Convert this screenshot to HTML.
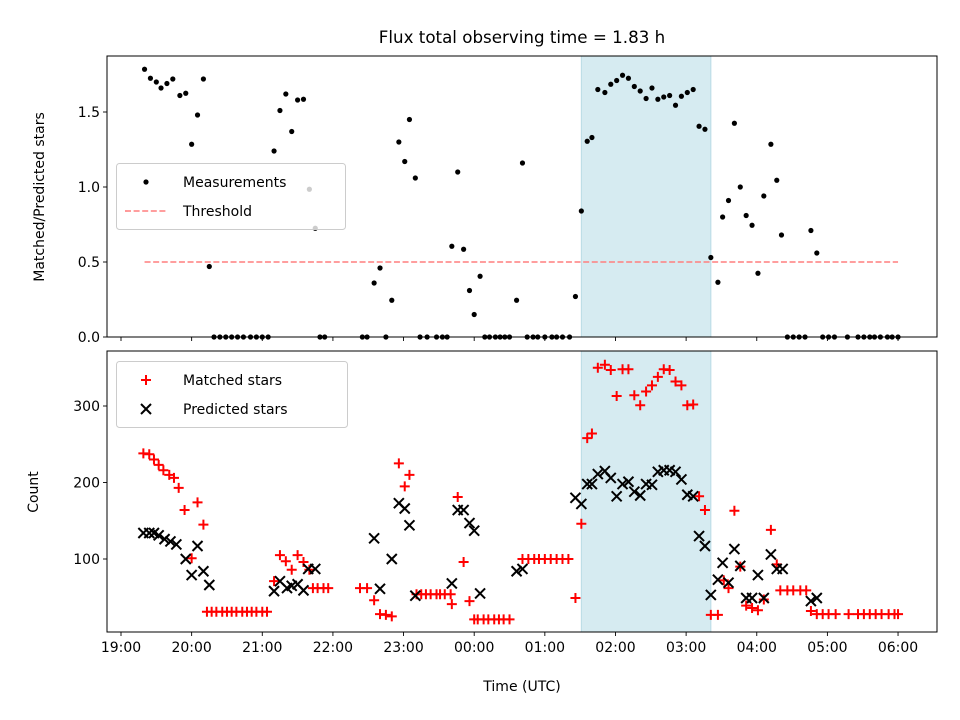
<!DOCTYPE html>
<html><head><meta charset="utf-8"><style>
html,body{margin:0;padding:0;background:#fff;}
svg{display:block;font-family:"DejaVu Sans","Liberation Sans",sans-serif;}
</style></head><body>
<svg id="chart" width="960" height="720" viewBox="0 0 960 720" xmlns="http://www.w3.org/2000/svg">
<rect width="960" height="720" fill="#fff"/>
<text x="522" y="43" font-size="16.7" text-anchor="middle">Flux total observing time = 1.83 h</text>
<g id="topPanel"></g>
<g id="botPanel"></g>
<text x="522" y="691" font-size="14" text-anchor="middle">Time (UTC)</text>
<text transform="translate(44,197) rotate(-90)" font-size="14" text-anchor="middle">Matched/Predicted stars</text>
<text transform="translate(38,492) rotate(-90)" font-size="14" text-anchor="middle">Count</text>
</svg>
<script>
// minutes after 19:00
const ratioT=[20,25,30,34,39,44,50,55,60,65,70,75,79,84,89,94,99,104,110,115,120,125,130,135,140,145,150,155,160,165,169,173,205,209,215,220,225,230,236,241,245,250,254,260,268,273,277,281,286,291,296,300,305,309,313,318,322,326,330,336,341,345,350,354,360,366,370,375,381,386,391,396,400,405,411,416,421,426,431,436,441,446,451,456,461,466,471,476,481,486,491,496,501,507,511,516,521,526,531,536,541,546,552,557,561,566,571,576,581,586,591,596,601,606,617,626,631,636,640,645,651,655,660];
const ratioV=[1.785,1.725,1.70,1.66,1.69,1.72,1.61,1.625,1.285,1.48,1.72,0.47,0,0,0,0,0,0,0,0,0,0,1.24,1.51,1.62,1.37,1.58,1.585,0.985,0.725,0,0,0,0,0.36,0.46,0,0.245,1.30,1.17,1.45,1.06,0,0,0,0,0,0.605,1.10,0.585,0.31,0.15,0.405,0,0,0,0,0,0,0.245,1.16,0,0,0,0,0,0,0,0,0.27,0.84,1.305,1.33,1.65,1.63,1.685,1.71,1.745,1.725,1.67,1.64,1.59,1.66,1.585,1.60,1.61,1.545,1.605,1.63,1.65,1.405,1.385,0.53,0.365,0.80,0.91,1.425,1.00,0.81,0.745,0.425,0.94,1.285,1.045,0.68,0,0,0,0,0.71,0.56,0,0,0,0,0,0,0,0,0,0,0,0];
const matchedT=[19,24,28,32,36,41,45,49,54,60,65,70,73,77,81,86,90,94,98,103,107,111,115,120,124,130,135,140,145,150,155,160,163,167,172,176,203,209,215,220,225,230,236,241,245,251,255,259,263,268,271,275,280,281,286,291,296,300,303,308,312,317,321,325,330,341,346,351,355,360,365,370,375,380,386,391,396,400,405,411,416,421,426,431,436,441,446,451,456,461,466,471,476,481,486,491,496,501,507,512,516,521,526,531,536,541,546,552,557,560,566,571,577,582,586,591,596,601,607,618,626,631,636,641,646,652,657,660];
const matchedV=[238,237,230,223,216,210,206,193,164,101,174,145,31,31,31,31,31,31,31,31,31,31,31,31,31,71,105,97,86,105,96,86,62,62,62,62,62,62,46,28,27,25,225,195,210,54,54,54,54,54,54,54,54,41,181,96,45,21,21,21,21,21,21,21,21,100,100,100,100,100,100,100,100,100,49,146,258,264,350,354,347,313,348,348,314,301,319,327,338,348,347,332,327,301,302,182,164,27,27,72,62,163,90,39,36,33,47,138,93,59,59,59,59,59,32,28,28,28,28,28,28,28,28,28,28,28,28,28];
const predT=[19,24,28,32,37,42,47,55,60,65,70,75,130,135,141,145,150,155,159,165,215,220,230,236,241,245,250,281,286,291,296,300,305,336,341,386,391,396,400,405,411,416,421,426,431,436,441,446,451,456,461,466,471,476,481,486,491,496,501,507,511,516,521,526,531,536,541,546,552,557,562,586,591];
const predV=[134,134,134,131,126,123,119,100,79,117,84,66,58,71,62,65,67,59,87,87,127,61,100,173,166,144,52,68,164,164,147,137,55,84,87,180,172,198,198,211,215,206,182,198,201,188,183,198,197,214,216,216,214,204,184,182,130,117,53,73,95,69,113,91,49,49,79,49,106,87,87,45,49];
const threshold=[0.5], thrT=[20,660];
const shadeT=[391,501];
const xTickLabels=["19:00","20:00","21:00","22:00","23:00","00:00","01:00","02:00","03:00","04:00","05:00","06:00"];
const topTicks=[0,0.5,1.0,1.5];
const botTicks=[100,200,300];

const NS="http://www.w3.org/2000/svg";
const L=107,R=937,TT=56,TB=337,BT=351,BB=632;
const xs=m=>121+m*70.64/60;
const yTop=v=>337-150*v;
const yBot=c=>559-0.765*(c-100);
function mk(p,tag,a){const e=document.createElementNS(NS,tag);for(const k in a)e.setAttribute(k,a[k]);p.appendChild(e);return e;}
const topG=document.getElementById('topPanel'),botG=document.getElementById('botPanel');

function panel(g,y0,y1,name){
  const s=mk(g,'rect',{x:xs(shadeT[0]),y:y0,width:xs(shadeT[1])-xs(shadeT[0]),height:y1-y0,fill:'#d6ebf1',stroke:'#b9dbe5','stroke-width':1});
  
  
  xTickLabels.forEach((lab,i)=>{const x=xs(i*60);
    const t=mk(g,'line',{x1:x,x2:x,y1:y1,y2:y1+4,stroke:'#000','stroke-width':0.9});
    
    
  });
}
panel(topG,TT,TB,'top');
panel(botG,BT,BB,'bottom');

const th=mk(topG,'line',{x1:xs(thrT[0]),x2:xs(thrT[1]),y1:yTop(threshold[0]),y2:yTop(threshold[0]),stroke:'#ff7f7f','stroke-width':1.6,'stroke-dasharray':'6,2.6'});


ratioT.forEach((t,i)=>{const c=mk(topG,'circle',{cx:xs(t),cy:yTop(ratioV[i]),r:2.6,fill:'#000'});
  
  });

function plus(g,x,y){return mk(g,'path',{d:`M${x-5} ${y}H${x+5}M${x} ${y-5}V${y+5}`,stroke:'#ff0000','stroke-width':2,fill:'none'});}
function cross(g,x,y){return mk(g,'path',{d:`M${x-5} ${y-5}L${x+5} ${y+5}M${x-5} ${y+5}L${x+5} ${y-5}`,stroke:'#000','stroke-width':2,fill:'none'});}
matchedT.forEach((t,i)=>{const p=plus(botG,xs(t),yBot(matchedV[i]));
  
  });
predT.forEach((t,i)=>{const p=cross(botG,xs(t),yBot(predV[i]));
  
  });

[[topG,TT,TB],[botG,BT,BB]].forEach(([g,a,b])=>{const f=mk(g,'rect',{x:L,y:a,width:R-L,height:b-a,fill:'none',stroke:'#000','stroke-width':1});
  
  });
xTickLabels.forEach((lab,i)=>{const t=mk(botG,'text',{x:xs(i*60),y:BB+20,'font-size':14,'text-anchor':'middle'});t.textContent=lab;
  
  });
topTicks.forEach(v=>{const y=yTop(v);mk(topG,'line',{x1:L-4,x2:L,y1:y,y2:y,stroke:'#000','stroke-width':0.9});
  const t=mk(topG,'text',{x:L-7,y:y+5,'font-size':14,'text-anchor':'end'});t.textContent=v.toFixed(1);
  
  });
botTicks.forEach(v=>{const y=yBot(v);mk(botG,'line',{x1:L-4,x2:L,y1:y,y2:y,stroke:'#000','stroke-width':0.9});
  const t=mk(botG,'text',{x:L-7,y:y+5,'font-size':14,'text-anchor':'end'});t.textContent=v;
  
  });

const lg1=mk(topG,'g',{});


mk(lg1,'rect',{x:116.5,y:163.5,width:229,height:66,rx:3,fill:'#fff','fill-opacity':0.8,stroke:'#ccc'});
mk(lg1,'circle',{cx:146,cy:182,r:2.6,fill:'#000'});
let t1=mk(lg1,'text',{x:183,y:187,'font-size':14});t1.textContent='Measurements';
mk(lg1,'line',{x1:125,x2:167,y1:211,y2:211,stroke:'#ff7f7f','stroke-width':1.6,'stroke-dasharray':'6,2.6'});
let t2=mk(lg1,'text',{x:183,y:216,'font-size':14});t2.textContent='Threshold';

const lg2=mk(botG,'g',{});


mk(lg2,'rect',{x:116.5,y:361.5,width:231,height:66,rx:3,fill:'#fff','fill-opacity':0.8,stroke:'#ccc'});
plus(lg2,146,380);
let t3=mk(lg2,'text',{x:183,y:385,'font-size':14});t3.textContent='Matched stars';
cross(lg2,146,409);
let t4=mk(lg2,'text',{x:183,y:414,'font-size':14});t4.textContent='Predicted stars';
</script>
</body></html>
